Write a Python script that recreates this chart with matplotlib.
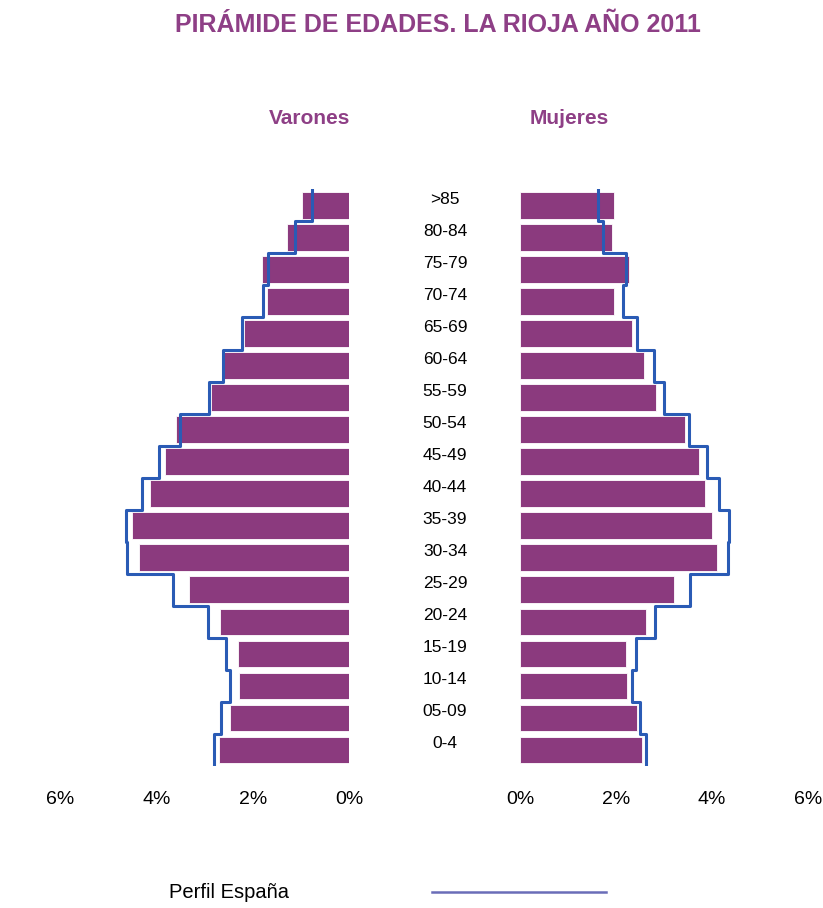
import numpy as np
import matplotlib
matplotlib.use("Agg")
import matplotlib.pyplot as plt
from matplotlib.lines import Line2D
from matplotlib.transforms import blended_transform_factory

plt.rcParams["font.family"] = ["Liberation Sans", "DejaVu Sans"]

# age groups, bottom to top
AGE_GROUPS = ["0-4", "05-09", "10-14", "15-19", "20-24", "25-29", "30-34",
              "35-39", "40-44", "45-49", "50-54", "55-59", "60-64", "65-69",
              "70-74", "75-79", "80-84", ">85"]

# % of total population, La Rioja 2011
MEN = [2.69, 2.47, 2.28, 2.30, 2.68, 3.33, 4.37, 4.50, 4.13, 3.83, 3.60,
       2.86, 2.59, 2.19, 1.71, 1.80, 1.29, 0.97]
WOMEN = [2.54, 2.43, 2.22, 2.21, 2.63, 3.21, 4.10, 4.01, 3.85, 3.72, 3.44,
         2.83, 2.58, 2.33, 1.96, 2.27, 1.92, 1.96]

# Spain profile
SPAIN_MEN = [2.80, 2.66, 2.48, 2.56, 2.92, 3.66, 4.60, 4.63, 4.30, 3.95,
             3.51, 2.90, 2.62, 2.23, 1.78, 1.69, 1.13, 0.76]
SPAIN_WOMEN = [2.62, 2.51, 2.33, 2.41, 2.81, 3.54, 4.34, 4.35, 4.15, 3.90,
               3.52, 2.99, 2.80, 2.43, 2.14, 2.21, 1.73, 1.63]

XTICKS = [0, 2, 4, 6]
XTICK_LABELS = ["0%", "2%", "4%", "6%"]

BAR_COLOR = "#8B3A7E"
LINE_COLOR = "#2A5BB5"
TEXT_PURPLE = "#8E3F86"


def step_profile(values):
    """x/y arrays for a step outline that spans each row fully."""
    n = len(values)
    ys = np.repeat(np.arange(n + 1) - 0.5, 2)[1:-1]
    xs = np.repeat(values, 2)
    return xs, ys


fig = plt.figure(figsize=(8.23, 9.08), dpi=100)

ax_m = fig.add_axes([0.0729, 0.1564, 0.3512, 0.6351])
ax_w = fig.add_axes([0.6318, 0.1564, 0.3500, 0.6351])

y = np.arange(len(AGE_GROUPS))

for ax, vals, prof in [(ax_m, MEN, SPAIN_MEN), (ax_w, WOMEN, SPAIN_WOMEN)]:
    ax.barh(y, vals, height=0.83, color=BAR_COLOR, edgecolor="white",
            linewidth=0.6)
    xs, ys = step_profile(prof)
    ax.plot(xs, ys, color=LINE_COLOR, linewidth=2.2)
    ax.set_xlim(0, 6)
    ax.set_ylim(-0.5, len(AGE_GROUPS) - 0.5)
    ax.set_yticks([])
    ax.set_xticks(XTICKS)
    ax.set_xticklabels(XTICK_LABELS)
    ax.tick_params(axis="x", length=0, pad=18, labelsize=14)
    for sp in ax.spines.values():
        sp.set_visible(False)

ax_m.invert_xaxis()

# age labels in the middle (sit slightly above the bar centres)
trans = blended_transform_factory(fig.transFigure, ax_m.transData)
for yi, lab in zip(y, AGE_GROUPS):
    fig.text(445 / 823, yi + 0.19, lab, transform=trans, ha="center",
             va="center", fontsize=12.5)

fig.text(438 / 823, 1 - 25 / 908, "PIRÁMIDE DE EDADES. LA RIOJA AÑO 2011",
         ha="center", va="center", fontsize=18, fontweight="bold",
         color=TEXT_PURPLE)
fig.text(310 / 823, 1 - 119 / 908, "Varones", ha="center", va="center",
         fontsize=15, fontweight="bold", color=TEXT_PURPLE)
fig.text(569 / 823, 1 - 119 / 908, "Mujeres", ha="center", va="center",
         fontsize=15, fontweight="bold", color=TEXT_PURPLE)

# legend
fig.text(229 / 823, 1 - 893 / 908, "Perfil España", ha="center",
         va="center", fontsize=14.5)
fig.add_artist(Line2D([432 / 823, 606 / 823], [1 - 892 / 908] * 2,
                      transform=fig.transFigure, color="#6A6DB8",
                      linewidth=1.8))

fig.savefig("out.png", dpi=100)
